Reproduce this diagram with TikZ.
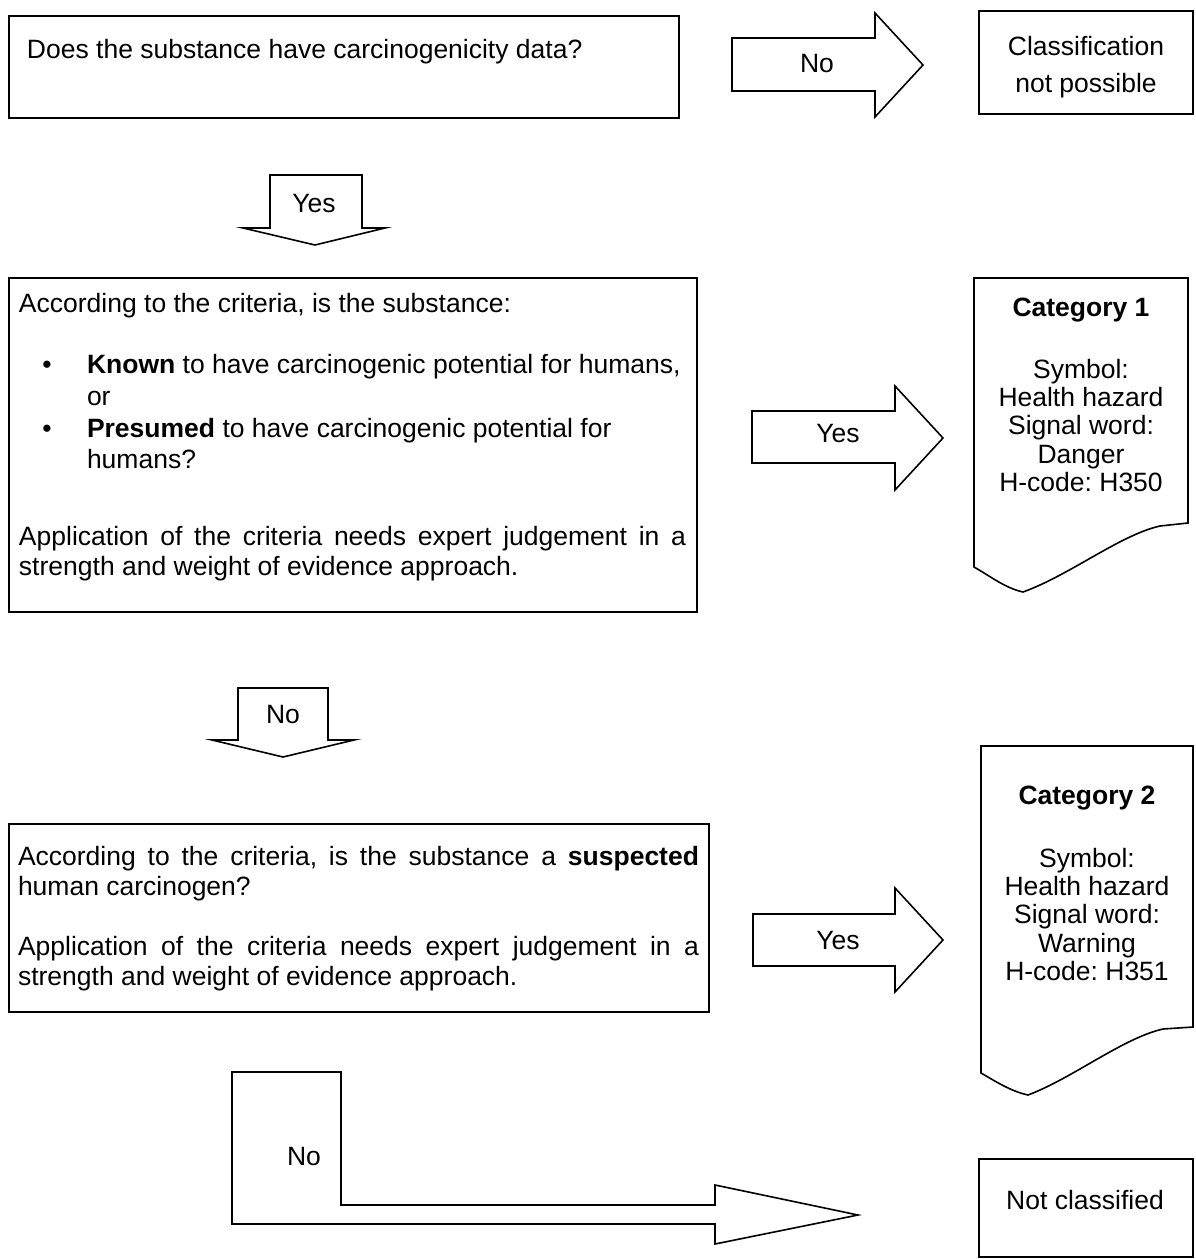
\documentclass[tikz,border=0pt]{standalone}
\usepackage{fontspec}
\setmainfont{Liberation Sans}
\frenchspacing
\begin{document}
\begin{tikzpicture}[x=1pt,y=-1pt,
  every node/.style={inner sep=0pt, outer sep=0pt},
  txt/.style={font=\fontsize{26.5}{30.5}\selectfont},
  catline/.style={font=\fontsize{26.5}{30.5}\selectfont, anchor=base},
  outl/.style={draw, line width=1.6pt, line join=miter},
  boxn/.style={draw, line width=1.6pt, anchor=north west},
]
\useasboundingbox (0,0) rectangle (1195,1259);

% ---------- boxes ----------
\node[boxn, minimum width=670pt, minimum height=102pt] (q1) at (9,16) {};
\node[boxn, minimum width=214pt, minimum height=103pt] (cnp) at (979,11) {};
\node[boxn, minimum width=688pt, minimum height=334pt] (q2) at (9,278) {};
\node[boxn, minimum width=700pt, minimum height=188pt] (q3) at (9,824) {};
\node[boxn, minimum width=214pt, minimum height=98pt] (nc) at (979,1159) {};

% ---------- document shapes ----------
\draw[outl] (974,278) -- (1188,278) -- (1188,523) -- (1160,526)
  .. controls (1120,535) and (1070,575) .. (1023,592)
  .. controls (1005,588) and (990,576) .. (974,567) -- cycle;
\draw[outl] (981,746) -- (1193,746) -- (1193,1027) -- (1163,1029)
  .. controls (1123,1038) and (1073,1078) .. (1028,1095)
  .. controls (1010,1091) and (995,1081) .. (981,1073) -- cycle;

% ---------- block arrows ----------
\draw[outl] (732,38) -- (875,38) -- (875,13) -- (923,65) -- (875,117) -- (875,91) -- (732,91) -- cycle;
\draw[outl] (270,175) -- (362,175) -- (362,228) -- (385,228) -- (315,245) -- (243,228) -- (270,228) -- cycle;
\draw[outl] (752,411) -- (895,411) -- (895,386) -- (943,438) -- (895,490) -- (895,463) -- (752,463) -- cycle;
\draw[outl] (238,688) -- (328,688) -- (328,740) -- (354,740) -- (283,757) -- (212,740) -- (238,740) -- cycle;
\draw[outl] (753,914) -- (895,914) -- (895,888) -- (943,940) -- (895,992) -- (895,966) -- (753,966) -- cycle;
\draw[outl] (232,1072) -- (341,1072) -- (341,1205) -- (715,1205) -- (715,1185) -- (858,1215) -- (715,1244) -- (715,1224) -- (232,1224) -- cycle;

% ---------- arrow labels ----------
\node[txt, anchor=base] (l1) at (817,72) {No};
\node[txt, anchor=base] (l2) at (314,212) {Yes};
\node[txt, anchor=base] (l3) at (838,442) {Yes};
\node[txt, anchor=base] (l4) at (283,723) {No};
\node[txt, anchor=base] (l5) at (838,949) {Yes};
\node[txt, anchor=base] (l6) at (304,1165) {No};

% ---------- texts ----------
\node[txt, anchor=base west] (q1t) at (27,58) {Does the substance have carcinogenicity data?};

\node[txt, anchor=base] (cnp1) at (1086,55) {Classification};
\node[txt, anchor=base] (cnp2) at (1086,92) {not possible};

\node[txt, anchor=base west] (q2a) at (19,312) {According to the criteria, is the substance:};
\node[txt, anchor=base] (b1) at (47,373) {\textbullet};
\node[txt, anchor=base west] (q2b1) at (87,373) {\textbf{Known} to have carcinogenic potential for humans,};
\node[txt, anchor=base west] (q2b2) at (87,405) {or};
\node[txt, anchor=base] (b2) at (47,437) {\textbullet};
\node[txt, anchor=base west] (q2c1) at (87,437) {\textbf{Presumed} to have carcinogenic potential for};
\node[txt, anchor=base west] (q2c2) at (87,468) {humans?};
\node[txt, anchor=base west, text width=667pt, align=justify] (q2d) at (19,545)
  {Application of the criteria needs expert judgement in a\linebreak strength and weight of evidence approach.};

\node[txt, anchor=base west, text width=681pt, align=justify] (q3a) at (18,865)
  {According to the criteria, is the substance a \textbf{suspected}\linebreak human carcinogen?};
\node[txt, anchor=base west, text width=681pt, align=justify] (q3b) at (18,955)
  {Application of the criteria needs expert judgement in a\linebreak strength and weight of evidence approach.};

\node[catline, font=\fontsize{26.5}{30.5}\selectfont\bfseries] (c1h) at (1081,316) {Category 1};
\node[catline] (c1a) at (1081,378) {Symbol:};
\node[catline] (c1b) at (1081,406.4) {Health hazard};
\node[catline] (c1c) at (1081,434.8) {Signal word:};
\node[catline] (c1d) at (1081,463.2) {Danger};
\node[catline] (c1e) at (1081,491.6) {H-code: H350};

\node[catline, font=\fontsize{26.5}{30.5}\selectfont\bfseries] (c2h) at (1087,804) {Category 2};
\node[catline] (c2a) at (1087,867) {Symbol:};
\node[catline] (c2b) at (1087,895.4) {Health hazard};
\node[catline] (c2c) at (1087,923.8) {Signal word:};
\node[catline] (c2d) at (1087,952.2) {Warning};
\node[catline] (c2e) at (1087,980.6) {H-code: H351};

\node[txt, anchor=base] (nct) at (1085,1209) {Not classified};
\end{tikzpicture}
\end{document}
